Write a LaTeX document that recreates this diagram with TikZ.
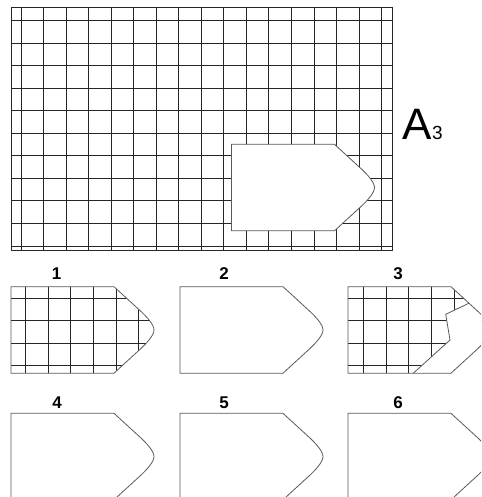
\documentclass[tikz,border=0pt]{standalone}
\usepackage{fontspec}
\setmainfont{Liberation Sans}
\tikzset{
  gridline/.style={draw=black!85, line width=1pt},
  outline/.style={draw=black!65, line width=0.8pt},
  lbl/.style={font=\fontsize{17}{17}\selectfont\bfseries, inner sep=0pt},
}
\def\shapeoutline{(0,0) -- (103,0) -- (127,22) .. controls (136,30) and (143,38) .. (143,43.25) .. controls (143,48.5) and (136,56.5) .. (127,64.5) -- (103,86.5) -- (0,86.5) -- cycle}
\newcommand\gridlines{%
  \foreach \k in {0,...,16} {\draw[gridline] ({21+22.54*\k},7.3) -- ({21+22.54*\k},250.7);}
  \foreach \j in {0,...,10} {\draw[gridline] (11,{20.7+22.53*\j}) -- (392,{20.7+22.53*\j});}
  \draw[gridline] (11,7.3) rectangle (392,250.7);
}
\begin{document}
\begin{tikzpicture}[x=1pt,y=-1pt]
\useasboundingbox (0,0) rectangle (481,497);
\clip (0,0) rectangle (481,497);
% main grid
\gridlines
\begin{scope}[shift={(231.5,144.3)}]
  \fill[white] \shapeoutline;
  \draw[outline] \shapeoutline;
\end{scope}
\node[anchor=base west, inner sep=0pt] (title) at (402.5,140) {\fontsize{44}{44}\selectfont A\fontsize{19}{19}\selectfont 3};
% option 1
\begin{scope}[shift={(11,286.7)}]
  \begin{scope}
    \clip \shapeoutline;
    \begin{scope}[shift={(-231.5,-144.3)}]
      \gridlines
    \end{scope}
  \end{scope}
  \draw[outline] \shapeoutline;
\end{scope}
% option 2
\begin{scope}[shift={(180,286.7)}]
  \draw[outline] \shapeoutline;
\end{scope}
% option 3
\begin{scope}[shift={(348,286.7)}]
  \begin{scope}
    \clip \shapeoutline;
    \begin{scope}[shift={(-230.5,-144.3)}]
      \gridlines
    \end{scope}
    \fill[white] (121,16.5) -- (97.7,27.6) -- (102,53.3) -- (65.3,86.5) -- (170,86.5) -- (170,16.5) -- cycle;
  \end{scope}
  \draw[outline] \shapeoutline;
  \draw[outline] (121,16.5) -- (97.7,27.6) -- (102,53.3) -- (65.3,86.5);
\end{scope}
% options 4-6
\begin{scope}[shift={(11,413.3)}]
  \draw[outline] \shapeoutline;
\end{scope}
\begin{scope}[shift={(180,413.3)}]
  \draw[outline] \shapeoutline;
\end{scope}
\begin{scope}[shift={(348,413.3)}]
  \draw[outline] \shapeoutline;
\end{scope}
% labels
\node[lbl] (l1) at (56.7,274) {1};
\node[lbl] (l2) at (224,274) {2};
\node[lbl] (l3) at (398,274) {3};
\node[lbl] (l4) at (57,402.7) {4};
\node[lbl] (l5) at (224,402.7) {5};
\node[lbl] (l6) at (398,402.7) {6};
\end{tikzpicture}
\end{document}
